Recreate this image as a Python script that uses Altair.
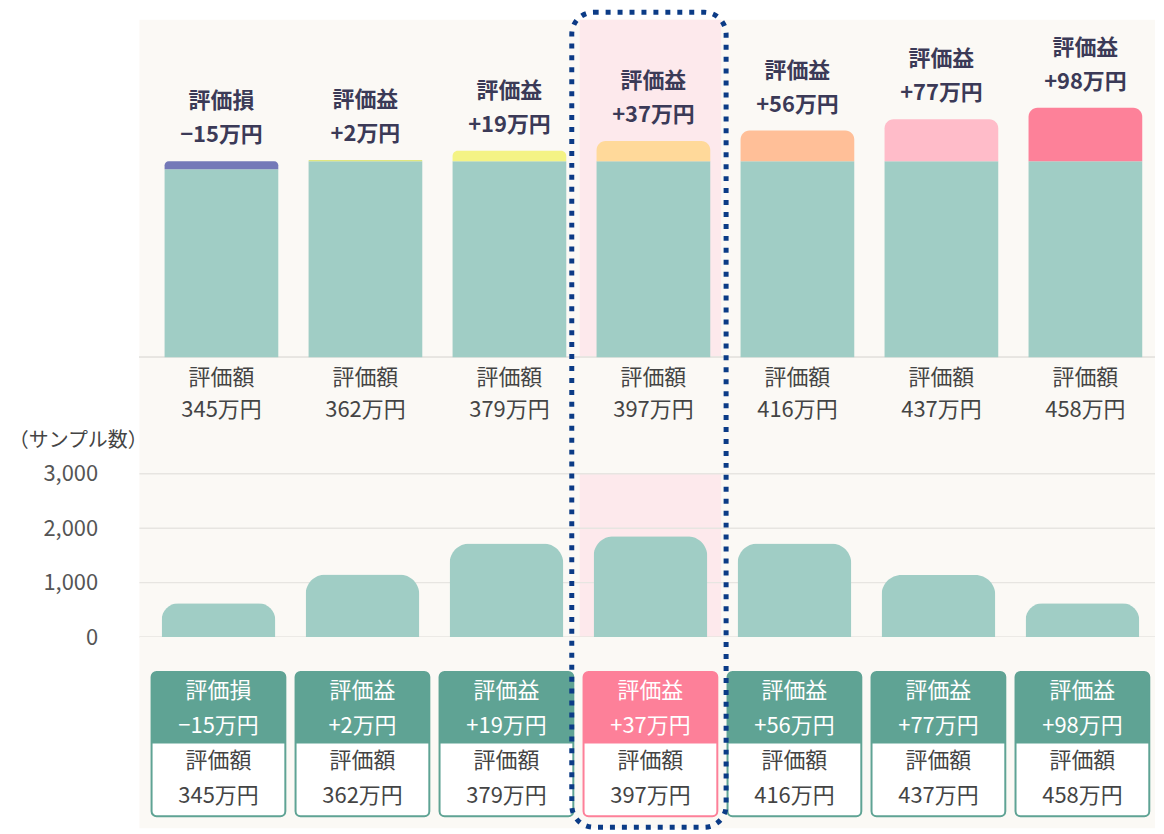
import altair as alt
import pandas as pd

# ---- data ----
value_labels = ["345万円", "362万円", "379万円", "397万円", "416万円", "437万円", "458万円"]
values = [345, 362, 379, 397, 416, 437, 458]          # 評価額（万円）
principal = 360                                        # 元本（万円）
kinds = ["評価損", "評価益", "評価益", "評価益", "評価益", "評価益", "評価益"]
gain_labels = ["−15万円", "+2万円", "+19万円", "+37万円", "+56万円", "+77万円", "+98万円"]
samples = [620, 1150, 1720, 1850, 1720, 1140, 620]    # サンプル数
sample_ticks = [0, 1000, 2000, 3000]
seg_colors = ["#7479b8", "#dfe67f", "#f4f385", "#ffd99a", "#ffbf98", "#ffbcc9", "#fd8199"]
highlight = "397万円"

TEAL = "#a0cdc5"
HEAD = "#5fa394"
PINK_HEAD = "#fd8099"
PINK_BG = "#fde9ec"
BEIGE = "#fbf9f5"
GRID = "#e7e5e1"
NAVY = "#0b3b86"
DARK = "#3b3a57"
GRAY = "#444444"
FONT = "Noto Sans CJK JP"
FS = 22

df = pd.DataFrame({
    "cat": value_labels,
    "value": values,
    "base": [min(v, principal) for v in values],
    "top": [max(v, principal) for v in values],
    "kind": kinds,
    "gain": gain_labels,
    "samples": samples,
    "seg": seg_colors,
    "box": [PINK_HEAD if c == highlight else HEAD for c in value_labels],
    "word": ["評価額"] * len(values),
    "zero": [0] * len(values),
    "smax": [sample_ticks[-1]] * len(values),
})

W = 1020
xscale = alt.Scale(domain=value_labels, paddingInner=0.071, paddingOuter=0.062, align=0.68)
X = alt.X("cat:N", sort=value_labels, scale=xscale, axis=None)
BW = alt.RelativeBandSize(0.85)
XO = 3  # upper section sits slightly right of the boxes

base = alt.Chart(df)
hl = base.transform_filter(alt.datum.cat == highlight)

# ---------------- top panel: valuation bars ----------------
k = 197 / 360
ytop = alt.Scale(domain=[-117 / k, 339 / k], nice=False, zero=False)
YZ = alt.Y("zero:Q", scale=ytop, axis=None)

t_pink = hl.mark_rect(color=PINK_BG, width=142).encode(x=X, y=YZ, y2=alt.value(0))
t_rule = base.mark_rule(color=GRID, strokeWidth=1.5).encode(y=YZ)
t_teal = base.mark_bar(color=TEAL, width=BW, xOffset=XO).encode(
    x=X, y=alt.Y("base:Q", scale=ytop, axis=None), y2="zero:Q")
t_seg = base.mark_bar(width=BW, xOffset=XO, cornerRadiusTopLeft=9, cornerRadiusTopRight=9).encode(
    x=X, y=alt.Y("top:Q", scale=ytop, axis=None), y2="base:Q",
    color=alt.Color("seg:N", scale=None))
t_kind = base.mark_text(dy=-60, dx=XO, fontSize=FS, fontWeight="bold", color=DARK).encode(
    x=X, y=alt.Y("top:Q", scale=ytop, axis=None), text="kind:N")
t_gain = base.mark_text(dy=-26, dx=XO, fontSize=FS, fontWeight="bold", color=DARK).encode(
    x=X, y=alt.Y("top:Q", scale=ytop, axis=None), text="gain:N")
t_lab1 = base.mark_text(dy=21, dx=XO, fontSize=FS, color=GRAY).encode(x=X, y=YZ, text="word:N")
t_lab2 = base.mark_text(dy=53, dx=XO, fontSize=FS, color=GRAY).encode(x=X, y=YZ, text="cat:N")

top = alt.layer(t_pink, t_rule, t_teal, t_seg, t_kind, t_gain, t_lab1, t_lab2).properties(
    width=W, height=456)

# ---------------- middle panel: sample counts ----------------
ymid = alt.Scale(domain=[0, 3000], nice=False)
yaxis = alt.Axis(values=sample_ticks, format=",d", grid=False, domain=False, ticks=False,
                 labelPadding=42, labelFontSize=FS, labelColor="#555555", labelFont=FONT,
                 title="（サンプル数）", titleAngle=0, titleAlign="center", titleBaseline="middle",
                 titleX=-62, titleY=-33, titleFontSize=20, titleFontWeight="normal",
                 titleColor=GRAY, titleFont=FONT)

m_pink = hl.mark_rect(color=PINK_BG, width=142).encode(
    x=X, y=alt.Y("smax:Q", scale=ymid, axis=yaxis), y2="zero:Q")
m_grid = alt.Chart(pd.DataFrame({"t": sample_ticks})).mark_rule(color=GRID, strokeWidth=1.5).encode(
    y=alt.Y("t:Q", scale=ymid, axis=yaxis))
m_bar = base.mark_bar(color=TEAL, width=BW, cornerRadiusTopLeft=20, cornerRadiusTopRight=20).encode(
    x=X, y=alt.Y("samples:Q", scale=ymid, axis=yaxis))

mid = alt.layer(m_pink, m_grid, m_bar).properties(width=W, height=164)

# ---------------- bottom panel: label boxes ----------------
b_box = base.mark_rect(fill="white", strokeWidth=2, cornerRadius=5).encode(
    x=X, y=alt.value(35), y2=alt.value(180), stroke=alt.Color("box:N", scale=None))
b_head = base.mark_rect(cornerRadiusTopLeft=5, cornerRadiusTopRight=5).encode(
    x=X, y=alt.value(35), y2=alt.value(107), color=alt.Color("box:N", scale=None))
b_t1 = base.mark_text(fontSize=FS, color="white").encode(x=X, y=alt.value(54), text="kind:N")
b_t2 = base.mark_text(fontSize=FS, color="white").encode(x=X, y=alt.value(89), text="gain:N")
b_t3 = base.mark_text(fontSize=FS, color=GRAY).encode(x=X, y=alt.value(125), text="word:N")
b_t4 = base.mark_text(fontSize=FS, color=GRAY).encode(x=X, y=alt.value(160), text="cat:N")
b_dots = hl.mark_rect(fill="transparent", stroke=NAVY, strokeWidth=5, strokeDash=[5, 7],
                      cornerRadius=22, width=155, xOffset=-1.5).encode(
    x=X, y=alt.value(-627.5), y2=alt.value(191))

bot = alt.layer(b_box, b_head, b_t1, b_t2, b_t3, b_t4, b_dots).properties(width=W, height=192)

chart = alt.vconcat(top, mid, bot, spacing=0, bounds="flush").properties(
    padding={"left": 0, "top": 0, "right": 0, "bottom": 0},
    background="white",
).configure_view(fill=BEIGE, strokeWidth=0).configure_text(font=FONT)

chart.save("out.html", embed_options={"renderer": "svg", "actions": False})
